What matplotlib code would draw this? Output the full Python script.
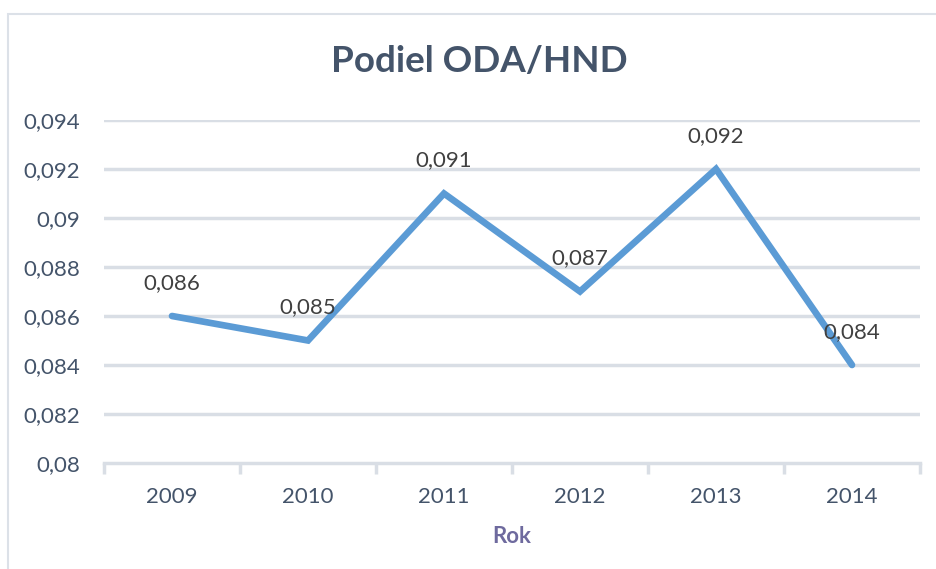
import matplotlib.pyplot as plt
from matplotlib.patches import Rectangle

years = ['2009', '2010', '2011', '2012', '2013', '2014']
share = [0.086, 0.085, 0.091, 0.087, 0.092, 0.084]
share_labels = ['0,086', '0,085', '0,091', '0,087', '0,092', '0,084']
y_ticks = [0.08, 0.082, 0.084, 0.086, 0.088, 0.09, 0.092, 0.094]
y_tick_labels = ['0,08', '0,082', '0,084', '0,086', '0,088', '0,09', '0,092', '0,094']

plt.rcParams['font.family'] = ['Lato', 'DejaVu Sans']
text_col = '#44546A'
grid_col = '#D9DEE5'

fig = plt.figure(figsize=(9.37, 5.69), dpi=100)
# outer chart frame
fig.patches.append(Rectangle((8 / 937, -0.05), 1.0, 1 - 14 / 569 + 0.05, transform=fig.transFigure,
                             fill=False, edgecolor='#DCE1E8', linewidth=1.5))

ax = fig.add_axes([104 / 937, 1 - 463 / 569, 816 / 937, 343 / 569])
x = list(range(len(years)))
ax.set_xlim(-0.5, len(years) - 0.5)
ax.set_ylim(0.08, 0.094)

for t in y_ticks[1:]:
    ax.axhline(t, color=grid_col, linewidth=2.5, zorder=1)

ax.plot(x, share, color='#5B9BD5', linewidth=4.8, solid_capstyle='round', solid_joinstyle='miter', zorder=3)
for xi, v, lab in zip(x, share, share_labels):
    ax.annotate(lab, (xi, v), xytext=(0, 24), textcoords='offset points', ha='center', va='center',
                fontsize=16, color='#404040', zorder=4)

for s in ['top', 'right', 'left']:
    ax.spines[s].set_visible(False)
ax.spines['bottom'].set_color(grid_col)
ax.spines['bottom'].set_linewidth(2.5)

ax.set_yticks(y_ticks)
ax.set_yticklabels(y_tick_labels, fontsize=16, color=text_col)
ax.tick_params(axis='y', length=0, pad=17)

ax.set_xticks(x)
ax.set_xticklabels(years, fontsize=16, color=text_col)
ax.tick_params(axis='x', length=0, pad=17)
ax.set_xticks([i - 0.5 for i in range(len(years) + 1)], minor=True)
ax.tick_params(axis='x', which='minor', length=8, width=2.5, color=grid_col)

ax.set_xlabel('Rok', fontsize=16, fontweight='bold', color='#6E6A9E', labelpad=14)

fig.text(479 / 937, 1 - 62 / 569, 'Podiel ODA/HND', ha='center', va='center',
         fontsize=26.5, fontweight='bold', color=text_col)

fig.savefig('out.png', dpi=100)
